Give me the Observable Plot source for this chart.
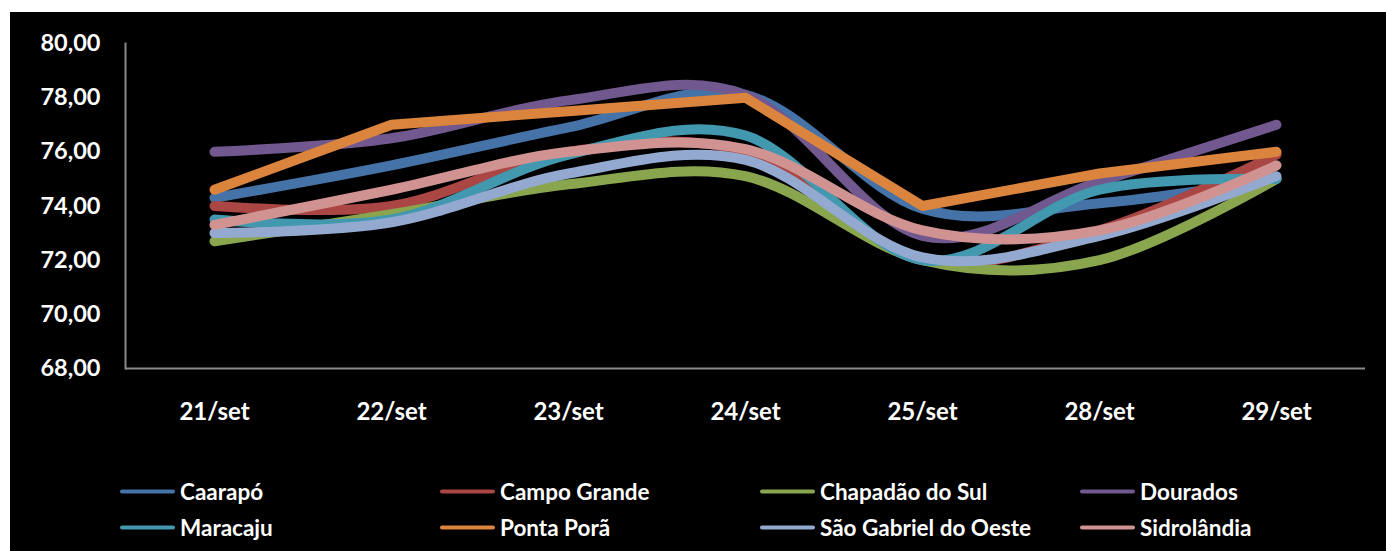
<!DOCTYPE html>
<html>
<head>
<meta charset="utf-8">
<script src="https://cdn.jsdelivr.net/npm/d3@7"></script>
<script src="https://cdn.jsdelivr.net/npm/@observablehq/plot@0.6"></script>
<style>
  html, body { margin: 0; padding: 0; background: #fff; }
  #wrap { position: absolute; left: 10px; top: 12px; width: 1376px; height: 539px; background: #000; overflow: hidden; font-family: Lato, "Open Sans", sans-serif; }
  #chart svg { display: block; }
  .legend-item { position: absolute; display: flex; align-items: center; color: #fff; font-weight: bold; font-size: 22.5px; white-space: nowrap; transform: translateY(-50%); }
  .legend-item .sw { display: inline-block; width: 55px; height: 4px; border-radius: 2px; margin-right: 5px; }
</style>
</head>
<body>
<div id="wrap"><div id="chart"></div><div id="legend"></div></div>
<script>
const dates = ["21/set", "22/set", "23/set", "24/set", "25/set", "28/set", "29/set"];
const yTicks = [68, 70, 72, 74, 76, 78, 80];

const seriesNames = ["Caarapó", "Campo Grande", "Chapadão do Sul", "Dourados", "Maracaju", "Ponta Porã", "São Gabriel do Oeste", "Sidrolândia"];
const seriesColors = ["#4572A7", "#AA4643", "#89A54E", "#71588F", "#4198AF", "#DB843D", "#93A9CF", "#D19392"];
const seriesSmooth = [true, true, true, true, true, false, true, true];

const caarapo     = [74.3, 75.5, 76.9, 78.1, 73.9, 74.1, 75.0];
const campoGrande = [74.0, 74.0, 76.0, 76.0, 72.0, 73.1, 75.9];
const chapadao    = [72.7, 73.7, 74.8, 75.1, 72.0, 72.0, 75.0];
const dourados    = [76.0, 76.5, 77.9, 78.1, 72.9, 74.9, 77.0];
const maracaju    = [73.5, 73.5, 75.9, 76.6, 72.0, 74.6, 75.0];
const pontaPora   = [74.6, 77.0, 77.5, 78.0, 74.0, 75.2, 76.0];
const saoGabriel  = [73.0, 73.4, 75.2, 75.7, 72.1, 72.9, 75.1];
const sidrolandia = [73.3, 74.6, 76.0, 76.1, 73.1, 73.1, 75.5];

const seriesValues = [caarapo, campoGrande, chapadao, dourados, maracaju, pontaPora, saoGabriel, sidrolandia];

const lineMarks = seriesValues.map((vals, i) =>
  Plot.line(dates.map((d, j) => ({date: d, value: vals[j]})), {
    x: "date", y: "value",
    stroke: seriesColors[i], strokeWidth: 10,
    curve: seriesSmooth[i] ? "cardinal" : "linear", tension: 0,
    strokeLinecap: "round", strokeLinejoin: "round"
  })
);

const fmt = d => d.toFixed(2).replace(".", ",");

const chart = Plot.plot({
  width: 1376,
  height: 420,
  marginLeft: 115,
  marginRight: 21,
  marginTop: 31,
  marginBottom: 64,
  style: {background: "#000", color: "#fff", fontFamily: "Lato, 'Open Sans', sans-serif", overflow: "visible"},
  x: {type: "point", domain: dates, padding: 0.5, label: null},
  y: {domain: [68, 80], label: null},
  marks: [
    Plot.frame({anchor: "left", stroke: "#8a8a8a", strokeWidth: 2}),
    Plot.ruleY([68], {stroke: "#8a8a8a", strokeWidth: 2}),
    Plot.axisY({ticks: yTicks, tickSize: 0, tickPadding: 25, tickFormat: fmt, fontSize: 23.5, fontWeight: "bold", fill: "#fff", label: null}),
    Plot.axisX({tickSize: 0, tickPadding: 34, fontSize: 24, fontWeight: "bold", fill: "#fff", label: null}),
    ...lineMarks
  ]
});
document.getElementById("chart").appendChild(chart);

const legend = document.getElementById("legend");
seriesNames.forEach((name, i) => {
  const col = i % 4, row = Math.floor(i / 4);
  const item = document.createElement("div");
  item.className = "legend-item";
  item.style.left = (110 + col * 320) + "px";
  item.style.top = (479 + row * 36) + "px";
  const sw = document.createElement("span");
  sw.className = "sw";
  sw.style.background = seriesColors[i];
  item.appendChild(sw);
  item.appendChild(document.createTextNode(name));
  legend.appendChild(item);
});
</script>
</body>
</html>
